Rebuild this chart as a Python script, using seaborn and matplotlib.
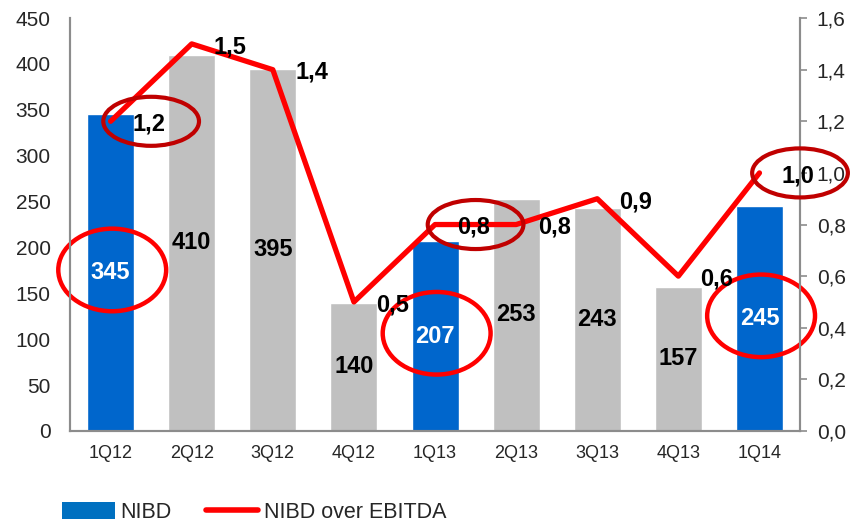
import numpy as np
import pandas as pd
import matplotlib
matplotlib.use("Agg")
import matplotlib.pyplot as plt
import seaborn as sns
from matplotlib.patches import Ellipse, Patch
from matplotlib.lines import Line2D

# chart data
quarters = ["1Q12", "2Q12", "3Q12", "4Q12", "1Q13", "2Q13", "3Q13", "4Q13", "1Q14"]
nibd = [345, 410, 395, 140, 207, 253, 243, 157, 245]
nibd_ebitda = [1.2, 1.5, 1.4, 0.5, 0.8, 0.8, 0.9, 0.6, 1.0]
highlight = ["1Q12", "1Q13", "1Q14"]

BLUE = "#0066CC"
GREY = "#C0C0C0"
RED = "#FF0000"
DARKRED = "#C00000"

sns.set_style("white")
plt.rcParams["font.family"] = ["Liberation Sans", "DejaVu Sans"]

df = pd.DataFrame({"quarter": quarters, "nibd": nibd, "ratio": nibd_ebitda})
df["pos"] = np.arange(len(df))
palette = {q: (BLUE if q in highlight else GREY) for q in quarters}

fig = plt.figure(figsize=(8.5, 5.24), dpi=100)
ax = fig.add_axes([0.0824, 0.1775, 0.8588, 0.788])

sns.barplot(data=df, x="quarter", y="nibd", hue="quarter", palette=palette,
            width=0.58, legend=False, saturation=1, ax=ax)
ax.set_xlim(-0.5, len(quarters) - 0.5)
ax.set_ylim(0, 450)
ax.set_yticks(range(0, 451, 50))
ax.set_xlabel("")
ax.set_ylabel("")

# bar value labels in the middle of each bar
for _, r in df.iterrows():
    color = "white" if r["quarter"] in highlight else "black"
    ax.text(r["pos"], r["nibd"] / 2, f"{r['nibd']}", ha="center", va="center",
            fontsize=17, fontweight="bold", color=color, zorder=5)

ax2 = ax.twinx()
sns.lineplot(data=df, x="pos", y="ratio", color=RED, linewidth=3.8, ax=ax2,
             zorder=4)
ax2.set_ylim(0, 1.6)
ax2.set_yticks(np.arange(0, 1.61, 0.2))
ax2.set_yticklabels([f"{v:.1f}".replace(".", ",") for v in np.arange(0, 1.61, 0.2)])
ax2.set_xlim(-0.5, len(quarters) - 0.5)
ax2.set_xlabel("")
ax2.set_ylabel("")

for _, r in df.iterrows():
    ax2.annotate(f"{r['ratio']:.1f}".replace(".", ","), (r["pos"], r["ratio"]),
                 xytext=(16, -2), textcoords="offset points", ha="left",
                 va="center", fontsize=17, fontweight="bold", color="black",
                 zorder=6)

# highlight ellipses
for _, r in df[df["quarter"].isin(highlight)].iterrows():
    ax.add_patch(Ellipse((r["pos"] + 0.02, r["nibd"] / 2 + 3), 1.33, 90,
                         fill=False, edgecolor=RED, linewidth=3.2, zorder=7,
                         clip_on=False))
    ax2.add_patch(Ellipse((r["pos"] + 0.5, r["ratio"]), 1.18, 0.19,
                          fill=False, edgecolor=DARKRED, linewidth=3.0, zorder=7,
                          clip_on=False))

# spines and ticks
for a in (ax, ax2):
    a.spines["top"].set_visible(False)
    for s in ("left", "right", "bottom"):
        a.spines[s].set_color("#8C8C8C")
        a.spines[s].set_linewidth(1.5)
ax.tick_params(axis="y", length=0, pad=14, labelsize=15)
ax.tick_params(axis="x", length=0, pad=10, labelsize=13)
ax2.tick_params(axis="y", length=5, width=1.2, color="#8C8C8C", pad=7,
                labelsize=15)

handles = [Patch(facecolor="#0070C0", edgecolor="none", label="NIBD"),
           Line2D([0], [0], color=RED, linewidth=4, label="NIBD over EBITDA")]
fig.legend(handles=handles, loc="lower left", bbox_to_anchor=(0.05, -0.035),
           ncol=2, frameon=False, fontsize=15.5, handlelength=2.45,
           handleheight=0.8, columnspacing=1.6, handletextpad=0.25)

fig.savefig("out.png", dpi=100)
